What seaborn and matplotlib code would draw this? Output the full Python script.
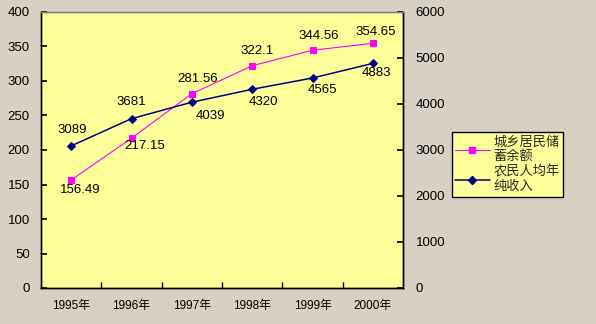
import matplotlib
matplotlib.use("Agg")
import matplotlib.pyplot as plt
import seaborn as sns
import pandas as pd
from matplotlib.lines import Line2D

years = ["1995年", "1996年", "1997年", "1998年", "1999年", "2000年"]
savings = [156.49, 217.15, 281.56, 322.1, 344.56, 354.65]
income = [3089, 3681, 4039, 4320, 4565, 4883]
savings_name = "城乡居民储\n蓄余额"
income_name = "农民人均年\n纯收入"

sns.set_theme(style="white")
plt.rcParams['font.family'] = ['Liberation Sans', 'Noto Sans CJK SC', 'DejaVu Sans']

bg = "#d8d1c3"
fig = plt.figure(figsize=(5.96, 3.24), dpi=100, facecolor=bg)
ax = fig.add_axes([41/596, 36/324, 362/596, 276/324])
ax.set_facecolor("#ffff99")
ax2 = ax.twinx()

df = pd.DataFrame({"year": years, "savings": savings, "income": income})
x = list(range(len(years)))
df["x"] = x

sns.lineplot(data=df, x="x", y="savings", ax=ax, color="#ff00ff", marker="s",
             markersize=4.5, markeredgecolor="#ff00ff", linewidth=0.8, sort=False)
sns.lineplot(data=df, x="x", y="income", ax=ax2, color="#000080", marker="D",
             markersize=4, markeredgecolor="#000080", linewidth=1.1, sort=False)

ax.set_xlim(-0.5, 5.5)
ax.set_ylim(0, 400)
ax2.set_ylim(0, 6000)
ax.set_yticks(range(0, 401, 50))
ax2.set_yticks(range(0, 6001, 1000))
ax.set_xticks(x)
ax.set_xticklabels(years)
ax.set_xticks([i + 0.5 for i in range(5)], minor=True)
ax.set_xlabel("")
ax.set_ylabel("")
ax2.set_ylabel("")

fs = 9
ax.tick_params(axis="x", which="major", length=0, labelsize=fs - 0.5, pad=9, colors="black")
ax.tick_params(axis="x", which="minor", length=4, direction="in", color="black", bottom=True)
ax.tick_params(axis="y", length=4, direction="in", labelsize=fs + 0.5, pad=8, colors="black")
ax2.tick_params(axis="y", length=4, direction="in", labelsize=fs + 0.5, pad=9, colors="black")

for a in (ax, ax2):
    for s in a.spines.values():
        s.set_color("black")
        s.set_linewidth(1.0)
ax.spines["top"].set_color("#808080")
ax2.spines["top"].set_color("#808080")

# data labels (offsets in pixels)
s_off = [(9, -10), (13, -8), (6, 15), (5, 15), (6, 14), (3, 11)]
for i, v in enumerate(savings):
    ax.annotate(f"{v:g}", (i, v), xytext=s_off[i], textcoords="offset pixels",
                ha="center", va="center", fontsize=fs + 0.5, color="black")
i_off = [(1, 16), (0, 17), (19, -14), (11, -13), (10, -12), (4, -10)]
for i, v in enumerate(income):
    ax2.annotate(f"{v}", (i, v), xytext=i_off[i], textcoords="offset pixels",
                 ha="center", va="center", fontsize=fs + 0.5, color="black")

handles = [
    Line2D([0], [0], color="#ff00ff", marker="s", markersize=4.5, linewidth=0.8),
    Line2D([0], [0], color="#000080", marker="D", markersize=4, linewidth=1.1),
]
leg = fig.legend(handles, [savings_name, income_name], loc="upper left",
                 bbox_to_anchor=(452/596, 1 - 132/324), frameon=True, fancybox=False,
                 prop={"family": ["Noto Sans CJK SC"], "size": 9.5},
                 handlelength=2.6, handletextpad=0.3, labelspacing=0.15,
                 borderpad=0.25, borderaxespad=0)
leg.get_frame().set_facecolor("#ffff99")
leg.get_frame().set_edgecolor("black")
leg.get_frame().set_linewidth(1.0)
leg.get_frame().set_alpha(1)

fig.savefig("out.png", dpi=100, facecolor=bg)
